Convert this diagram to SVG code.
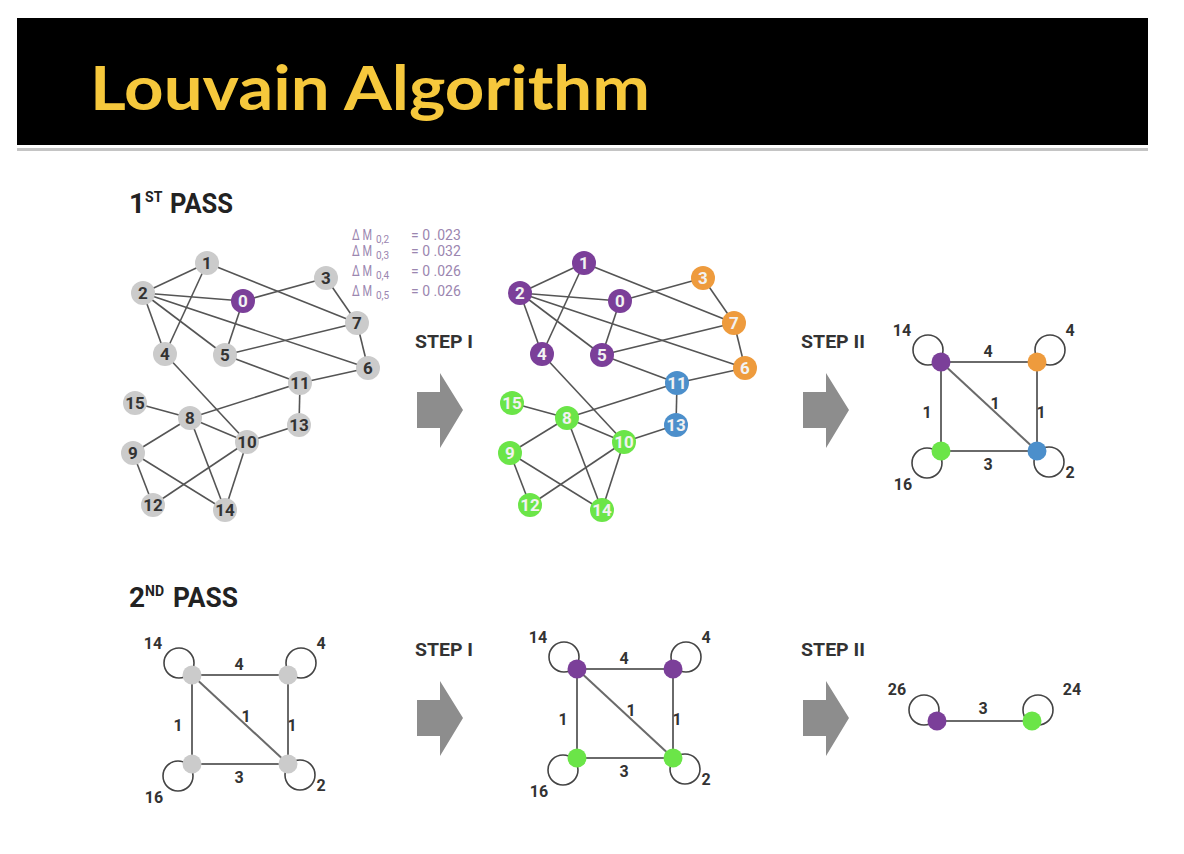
<svg xmlns="http://www.w3.org/2000/svg" xmlns:xlink="http://www.w3.org/1999/xlink" width="1184" height="854" viewBox="0 0 1184 854">
<style>
.e{stroke:#555;stroke-width:1.6;fill:none}
.sq{stroke:#6a6a6a;stroke-width:2;fill:none}
.loop{fill:none;stroke:#444;stroke-width:1.6}
.g{fill:#cbcbcb}
.p{fill:#7b3f99}
.o{fill:#ee9b3d}
.b{fill:#4c8fcb}
.gr{fill:#6be548}
.t{font-family:Roboto,"DejaVu Sans",sans-serif;font-weight:bold;font-size:17px;text-anchor:middle}
.td{fill:#333}
.tl{fill:#f2f2f2}
.lbl{font-family:Roboto,"DejaVu Sans",sans-serif;font-weight:bold;font-size:16px;fill:#333;text-anchor:middle}
.arrow{fill:#8d8d8d}
.step{font-family:Roboto,"DejaVu Sans",sans-serif;font-weight:bold;font-size:18px;fill:#333}
.pass{font-family:Roboto,"DejaVu Sans",sans-serif;font-weight:bold;fill:#222}
.dm{font-family:Roboto,"DejaVu Sans",sans-serif;font-size:14px;fill:#9b86b0}
.sub{font-family:Roboto,"DejaVu Sans",sans-serif;font-size:10px;fill:#9b86b0}
</style>
<defs>
<path id="arr" d="M0,-18 H23 V-37 L46,0 L23,38 V18 H0 Z"/>
<g id="edges1">
<line class="e" x1="207" y1="263" x2="143" y2="293"/>
<line class="e" x1="207" y1="263" x2="165" y2="354"/>
<line class="e" x1="207" y1="263" x2="357" y2="323"/>
<line class="e" x1="143" y1="293" x2="243" y2="301"/>
<line class="e" x1="143" y1="293" x2="165" y2="354"/>
<line class="e" x1="143" y1="293" x2="225" y2="355"/>
<line class="e" x1="143" y1="293" x2="368" y2="368"/>
<line class="e" x1="243" y1="301" x2="326" y2="278"/>
<line class="e" x1="243" y1="301" x2="225" y2="355"/>
<line class="e" x1="326" y1="278" x2="357" y2="323"/>
<line class="e" x1="357" y1="323" x2="225" y2="355"/>
<line class="e" x1="357" y1="323" x2="368" y2="368"/>
<line class="e" x1="225" y1="355" x2="300" y2="383"/>
<line class="e" x1="368" y1="368" x2="300" y2="383"/>
<line class="e" x1="165" y1="354" x2="247" y2="442"/>
<line class="e" x1="300" y1="383" x2="190" y2="418"/>
<line class="e" x1="300" y1="383" x2="299" y2="425"/>
<line class="e" x1="299" y1="425" x2="247" y2="442"/>
<line class="e" x1="135" y1="403" x2="190" y2="418"/>
<line class="e" x1="190" y1="418" x2="133" y2="453"/>
<line class="e" x1="190" y1="418" x2="247" y2="442"/>
<line class="e" x1="190" y1="418" x2="225" y2="510"/>
<line class="e" x1="133" y1="453" x2="153" y2="505"/>
<line class="e" x1="133" y1="453" x2="225" y2="510"/>
<line class="e" x1="247" y1="442" x2="153" y2="505"/>
<line class="e" x1="247" y1="442" x2="225" y2="510"/>
</g>
<g id="sqedges">
<line class="sq" x1="0" y1="0" x2="96" y2="0"/>
<line class="sq" x1="0" y1="0" x2="0" y2="89"/>
<line class="sq" x1="96" y1="0" x2="96" y2="89"/>
<line class="sq" x1="0" y1="89" x2="96" y2="89"/>
<line class="sq" x1="0" y1="0" x2="96" y2="89"/>
</g>
<g id="sqloops">
<circle class="loop" cx="-13" cy="-12" r="15"/>
<circle class="loop" cx="109" cy="-12" r="15"/>
<circle class="loop" cx="-14" cy="101" r="15"/>
<circle class="loop" cx="108" cy="100" r="15"/>
</g>
<g id="sqlabels">
<text class="lbl" x="-39" y="-26">14</text>
<text class="lbl" x="129" y="-26">4</text>
<text class="lbl" x="47" y="-5">4</text>
<text class="lbl" x="-14" y="56">1</text>
<text class="lbl" x="54" y="47">1</text>
<text class="lbl" x="100" y="56">1</text>
<text class="lbl" x="47" y="108">3</text>
<text class="lbl" x="-38" y="128">16</text>
<text class="lbl" x="129" y="116">2</text>
</g>
</defs>

<rect width="1184" height="854" fill="#ffffff"/>

<g id="title">
<rect x="17" y="18" width="1131" height="127" fill="#000"/>
<rect x="17" y="148" width="1131" height="3" fill="#c4c4c4"/>
<text x="90" y="110" font-family="Lato,'Open Sans',sans-serif" font-weight="bold" font-size="62" fill="#f6c83c" textLength="560" lengthAdjust="spacingAndGlyphs">Louvain Algorithm</text>
</g>

<g id="headings">
<text class="pass" x="129" y="213" font-size="28">1<tspan font-size="14" dy="-11">ST</tspan><tspan dy="11" x="170" textLength="63" lengthAdjust="spacingAndGlyphs">PASS</tspan></text>
<text class="pass" x="129" y="607" font-size="28">2<tspan font-size="14" dy="-11">ND</tspan><tspan dy="11" x="173" textLength="65" lengthAdjust="spacingAndGlyphs">PASS</tspan></text>
<text class="step" x="415" y="348" textLength="58" lengthAdjust="spacingAndGlyphs">STEP I</text>
<text class="step" x="801" y="348" textLength="64" lengthAdjust="spacingAndGlyphs">STEP II</text>
<text class="step" x="415" y="656" textLength="58" lengthAdjust="spacingAndGlyphs">STEP I</text>
<text class="step" x="801" y="656" textLength="64" lengthAdjust="spacingAndGlyphs">STEP II</text>
</g>

<g id="delta-m">
<text class="dm" x="352" y="240" textLength="20" lengthAdjust="spacingAndGlyphs">Δ M</text><text class="sub" x="376" y="243">0,2</text><text class="dm" x="411" y="240">= 0 .023</text>
<text class="dm" x="352" y="256" textLength="20" lengthAdjust="spacingAndGlyphs">Δ M</text><text class="sub" x="376" y="259">0,3</text><text class="dm" x="411" y="256">= 0 .032</text>
<text class="dm" x="352" y="276" textLength="20" lengthAdjust="spacingAndGlyphs">Δ M</text><text class="sub" x="376" y="279">0,4</text><text class="dm" x="411" y="276">= 0 .026</text>
<text class="dm" x="352" y="296" textLength="20" lengthAdjust="spacingAndGlyphs">Δ M</text><text class="sub" x="376" y="299">0,5</text><text class="dm" x="411" y="296">= 0 .026</text>
</g>

<g id="arrows">
<use xlink:href="#arr" class="arrow" transform="translate(417,410)"/>
<use xlink:href="#arr" class="arrow" transform="translate(803,410)"/>
<use xlink:href="#arr" class="arrow" transform="translate(417,718)"/>
<use xlink:href="#arr" class="arrow" transform="translate(803,718)"/>
</g>

<g id="connectors">
<use xlink:href="#edges1"/>
<use xlink:href="#edges1" transform="translate(377,0)"/>
<g transform="translate(941,362)"><use xlink:href="#sqloops"/><use xlink:href="#sqedges"/></g>
<g transform="translate(192,675)"><use xlink:href="#sqloops"/><use xlink:href="#sqedges"/></g>
<g transform="translate(577,669)"><use xlink:href="#sqloops"/><use xlink:href="#sqedges"/></g>
<circle class="loop" cx="924" cy="710" r="15"/>
<circle class="loop" cx="1038" cy="710" r="15"/>
<line class="sq" x1="937" y1="721" x2="1032" y2="721"/>
</g>

<!-- Pass 1 original graph -->
<g id="p1-nodes">
<g id="a1"><circle class="g" cx="207" cy="263" r="12"/><text class="t td" x="207" y="269">1</text></g>
<g id="a2"><circle class="g" cx="143" cy="293" r="12"/><text class="t td" x="143" y="299">2</text></g>
<g id="a0"><circle class="p" cx="243" cy="301" r="12"/><text class="t tl" x="243" y="307">0</text></g>
<g id="a3"><circle class="g" cx="326" cy="278" r="12"/><text class="t td" x="326" y="284">3</text></g>
<g id="a7"><circle class="g" cx="357" cy="323" r="12"/><text class="t td" x="357" y="329">7</text></g>
<g id="a4"><circle class="g" cx="165" cy="354" r="12"/><text class="t td" x="165" y="360">4</text></g>
<g id="a5"><circle class="g" cx="225" cy="355" r="12"/><text class="t td" x="225" y="361">5</text></g>
<g id="a6"><circle class="g" cx="368" cy="368" r="12"/><text class="t td" x="368" y="374">6</text></g>
<g id="a11"><circle class="g" cx="300" cy="383" r="12"/><text class="t td" x="300" y="389">11</text></g>
<g id="a15"><circle class="g" cx="135" cy="403" r="12"/><text class="t td" x="135" y="409">15</text></g>
<g id="a8"><circle class="g" cx="190" cy="418" r="12"/><text class="t td" x="190" y="424">8</text></g>
<g id="a13"><circle class="g" cx="299" cy="425" r="12"/><text class="t td" x="299" y="431">13</text></g>
<g id="a10"><circle class="g" cx="247" cy="442" r="12"/><text class="t td" x="247" y="448">10</text></g>
<g id="a9"><circle class="g" cx="133" cy="453" r="12"/><text class="t td" x="133" y="459">9</text></g>
<g id="a12"><circle class="g" cx="153" cy="505" r="12"/><text class="t td" x="153" y="511">12</text></g>
<g id="a14"><circle class="g" cx="225" cy="510" r="12"/><text class="t td" x="225" y="516">14</text></g>
</g>

<!-- Pass 1 step I graph -->
<g id="p1s1-nodes" transform="translate(377,0)">
<g id="b1"><circle class="p" cx="207" cy="263" r="12"/><text class="t tl" x="207" y="269">1</text></g>
<g id="b2"><circle class="p" cx="143" cy="293" r="12"/><text class="t tl" x="143" y="299">2</text></g>
<g id="b0"><circle class="p" cx="243" cy="301" r="12"/><text class="t tl" x="243" y="307">0</text></g>
<g id="b3"><circle class="o" cx="326" cy="278" r="12"/><text class="t tl" x="326" y="284">3</text></g>
<g id="b7"><circle class="o" cx="357" cy="323" r="12"/><text class="t tl" x="357" y="329">7</text></g>
<g id="b4"><circle class="p" cx="165" cy="354" r="12"/><text class="t tl" x="165" y="360">4</text></g>
<g id="b5"><circle class="p" cx="225" cy="355" r="12"/><text class="t tl" x="225" y="361">5</text></g>
<g id="b6"><circle class="o" cx="368" cy="368" r="12"/><text class="t tl" x="368" y="374">6</text></g>
<g id="b11"><circle class="b" cx="300" cy="383" r="12"/><text class="t tl" x="300" y="389">11</text></g>
<g id="b15"><circle class="gr" cx="135" cy="403" r="12"/><text class="t tl" x="135" y="409">15</text></g>
<g id="b8"><circle class="gr" cx="190" cy="418" r="12"/><text class="t tl" x="190" y="424">8</text></g>
<g id="b13"><circle class="b" cx="299" cy="425" r="12"/><text class="t tl" x="299" y="431">13</text></g>
<g id="b10"><circle class="gr" cx="247" cy="442" r="12"/><text class="t tl" x="247" y="448">10</text></g>
<g id="b9"><circle class="gr" cx="133" cy="453" r="12"/><text class="t tl" x="133" y="459">9</text></g>
<g id="b12"><circle class="gr" cx="153" cy="505" r="12"/><text class="t tl" x="153" y="511">12</text></g>
<g id="b14"><circle class="gr" cx="225" cy="510" r="12"/><text class="t tl" x="225" y="516">14</text></g>
</g>

<!-- Pass 1 step II -->
<g id="p1s2" transform="translate(941,362)">
<g id="c-purple"><circle class="p" cx="0" cy="0" r="9.5"/></g>
<g id="c-orange"><circle class="o" cx="96" cy="0" r="9.5"/></g>
<g id="c-green"><circle class="gr" cx="0" cy="89" r="9.5"/></g>
<g id="c-blue"><circle class="b" cx="96" cy="89" r="9.5"/></g>
<use xlink:href="#sqlabels"/>
</g>

<!-- Pass 2 original -->
<g id="p2" transform="translate(192,675)">
<g id="d-tl"><circle class="g" cx="0" cy="0" r="9.5"/></g>
<g id="d-tr"><circle class="g" cx="96" cy="0" r="9.5"/></g>
<g id="d-bl"><circle class="g" cx="0" cy="89" r="9.5"/></g>
<g id="d-br"><circle class="g" cx="96" cy="89" r="9.5"/></g>
<use xlink:href="#sqlabels"/>
</g>

<!-- Pass 2 step I -->
<g id="p2s1" transform="translate(577,669)">
<g id="e-tl"><circle class="p" cx="0" cy="0" r="9.5"/></g>
<g id="e-tr"><circle class="p" cx="96" cy="0" r="9.5"/></g>
<g id="e-bl"><circle class="gr" cx="0" cy="89" r="9.5"/></g>
<g id="e-br"><circle class="gr" cx="96" cy="89" r="9.5"/></g>
<use xlink:href="#sqlabels"/>
</g>

<!-- Pass 2 step II -->
<g id="p2s2">
<g id="f-purple"><circle class="p" cx="937" cy="721" r="9.5"/><text class="lbl" x="897" y="695">26</text></g>
<g id="f-green"><circle class="gr" cx="1032" cy="721" r="9.5"/><text class="lbl" x="1072" y="695">24</text></g>
<text class="lbl" x="983" y="714">3</text>
</g>
</svg>
